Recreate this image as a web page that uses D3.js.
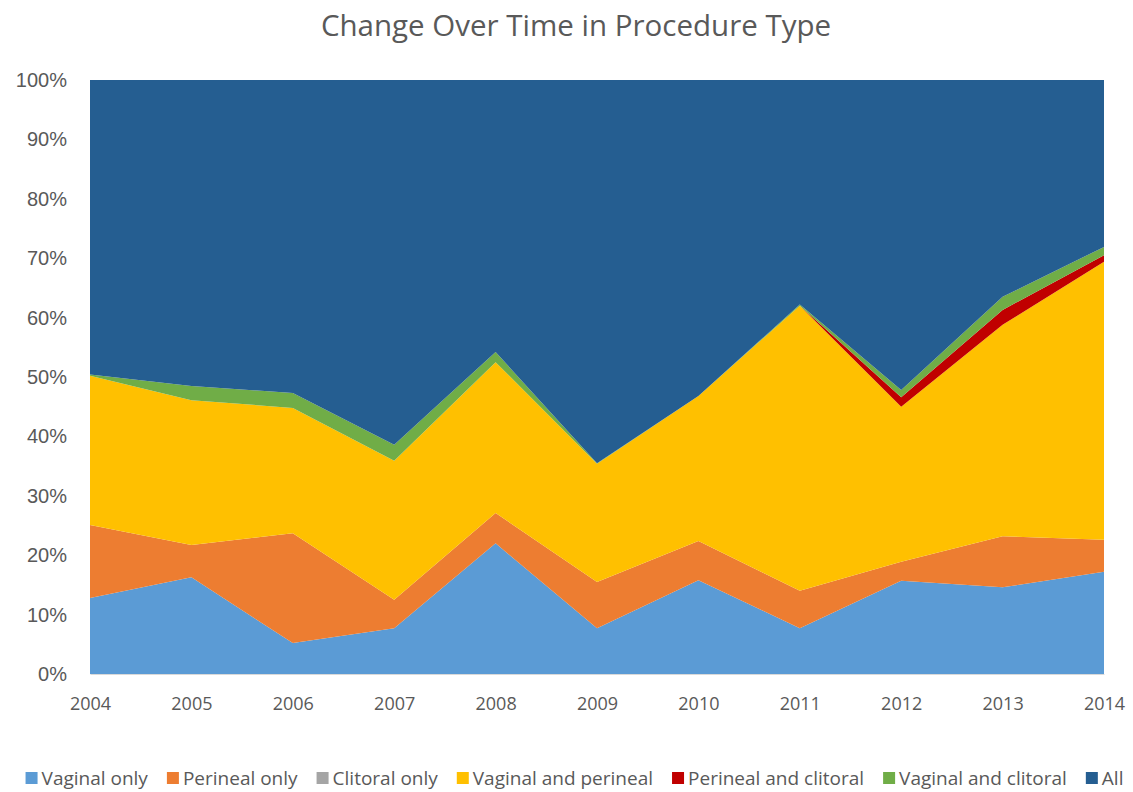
<!DOCTYPE html>
<html>
<head>
<meta charset="utf-8">
<script src="https://d3js.org/d3.v7.min.js"></script>
<style>
  body { margin: 0; background: #fff; }
  text { fill: #595959; }
</style>
</head>
<body>
<div id="chart"></div>
<script>
// Data (percent of procedures per year)
var years = ["2004", "2005", "2006", "2007", "2008", "2009", "2010", "2011", "2012", "2013", "2014"];
var seriesNames = ["Vaginal only", "Perineal only", "Clitoral only", "Vaginal and perineal",
    "Perineal and clitoral", "Vaginal and clitoral", "All"];
var vaginalOnly = [12.8, 16.3, 5.2, 7.7, 22.0, 7.7, 15.8, 7.7, 15.7, 14.6, 17.2];
var perinealOnly = [12.3, 5.4, 18.5, 4.8, 5.1, 7.8, 6.6, 6.3, 3.2, 8.6, 5.4];
var clitoralOnly = [0, 0, 0, 0, 0, 0, 0, 0, 0, 0, 0];
var vaginalPerineal = [25.1, 24.4, 21.1, 23.4, 25.4, 19.9, 24.4, 48.0, 26.1, 35.6, 46.8];
var perinealClitoral = [0, 0, 0, 0, 0, 0, 0, 0, 1.6, 2.5, 1.1];
var vaginalClitoral = [0.2, 2.4, 2.5, 2.7, 1.7, 0.1, 0, 0.2, 1.2, 2.2, 1.4];
var allThree = [49.6, 51.5, 52.7, 61.4, 45.8, 64.5, 53.2, 37.8, 52.2, 36.5, 28.1];
var yTicks = [0, 0.1, 0.2, 0.3, 0.4, 0.5, 0.6, 0.7, 0.8, 0.9, 1];

var colors = ["#5B9BD5", "#ED7D31", "#A5A5A5", "#FFC000", "#C00000", "#70AD47", "#255E91"];
var seriesValues = [vaginalOnly, perinealOnly, clitoralOnly, vaginalPerineal,
    perinealClitoral, vaginalClitoral, allThree];

// SVG area
var svgWidth = 1133;
var svgHeight = 792;
var margin = { top: 80, right: 29, bottom: 118, left: 90 };
var chartWidth = svgWidth - margin.left - margin.right;
var chartHeight = svgHeight - margin.top - margin.bottom;

var svg = d3.select("#chart")
    .append("svg")
    .attr("width", svgWidth)
    .attr("height", svgHeight);

var chartGroup = svg.append("g")
    .attr("transform", `translate(${margin.left}, ${margin.top})`);

// Build rows for the stack
var rows = years.map((y, i) => {
    var row = { year: y };
    seriesNames.forEach((s, j) => { row[s] = seriesValues[j][i]; });
    return row;
});

var stack = d3.stack()
    .keys(seriesNames)
    .offset(d3.stackOffsetExpand);
var layers = stack(rows);

var xScale = d3.scalePoint()
    .domain(years)
    .range([0, chartWidth]);
var yScale = d3.scaleLinear()
    .domain([0, 1])
    .range([chartHeight, 0]);

var area = d3.area()
    .x(d => xScale(d.data.year))
    .y0(d => yScale(d[0]))
    .y1(d => yScale(d[1]));

chartGroup.selectAll("path.layer")
    .data(layers)
    .enter()
    .append("path")
    .attr("class", "layer")
    .attr("d", area)
    .attr("fill", (d, i) => colors[i]);

// Y axis (labels only)
var leftAxis = d3.axisLeft(yScale)
    .tickValues(yTicks)
    .tickFormat(d3.format(".0%"))
    .tickSize(0)
    .tickPadding(23);
var yAxisG = chartGroup.append("g").call(leftAxis);
yAxisG.select(".domain").remove();
yAxisG.selectAll("text")
    .style("font-family", "'Liberation Sans', Arial, sans-serif")
    .style("font-size", "20px")
    .attr("fill", "#595959");

// X axis
var bottomAxis = d3.axisBottom(xScale)
    .tickSize(0)
    .tickPadding(23);
var xAxisG = chartGroup.append("g")
    .attr("transform", `translate(0, ${chartHeight})`)
    .call(bottomAxis);
xAxisG.select(".domain").attr("stroke", "#D9D9D9").attr("stroke-width", 1);
xAxisG.selectAll("text")
    .style("font-family", "'Open Sans', sans-serif")
    .style("font-size", "18px")
    .attr("fill", "#595959");

// Title
svg.append("text")
    .attr("x", 576)
    .attr("y", 36)
    .attr("text-anchor", "middle")
    .style("font-family", "'Open Sans', sans-serif")
    .style("font-size", "29.5px")
    .text("Change Over Time in Procedure Type");

// Legend
var legend = svg.append("g").attr("transform", "translate(0, 778)");
var xPos = 0;
var items = [];
seriesNames.forEach((s, i) => {
    var g = legend.append("g");
    g.append("rect")
        .attr("x", 0).attr("y", -6)
        .attr("width", 12).attr("height", 12)
        .attr("fill", colors[i]);
    var t = g.append("text")
        .attr("x", 16).attr("y", 7)
        .style("font-family", "'Open Sans', sans-serif")
        .style("font-size", "19px")
        .text(s);
    var w = 16 + t.node().getComputedTextLength();
    items.push({ g: g, x: xPos });
    xPos += w + 19;
});
var total = xPos - 19;
var startX = (svgWidth - total) / 2 + 8;
items.forEach(it => it.g.attr("transform", `translate(${startX + it.x}, 0)`));
</script>
</body>
</html>
